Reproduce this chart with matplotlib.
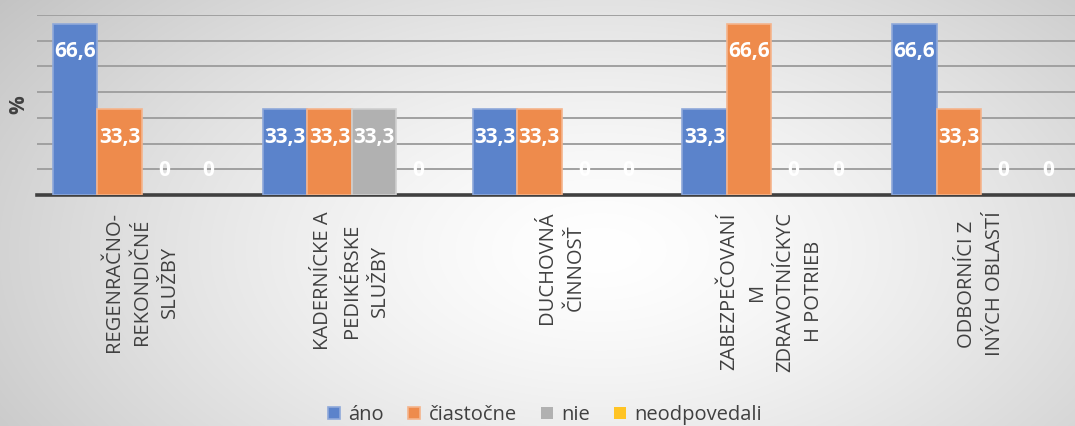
import numpy as np
import matplotlib
matplotlib.use("Agg")
import matplotlib.pyplot as plt

plt.rcParams['font.family'] = ['Open Sans', 'DejaVu Sans']

categories = ["REGENRAČNO-\nREKONDIČNÉ\nSLUŽBY",
              "KADERNÍCKE A\nPEDIKÉRSKE\nSLUŽBY",
              "DUCHOVNÁ\nČINNOSŤ",
              "ZABEZPEČOVANÍ\nM\nZDRAVOTNÍCKYC\nH POTRIEB",
              "ODBORNÍCI Z\nINÝCH OBLASTÍ"]
series_names = ["áno", "čiastočne", "nie", "neodpovedali"]
ano = [66.6, 33.3, 33.3, 33.3, 66.6]
ciastocne = [33.3, 33.3, 33.3, 66.6, 33.3]
nie = [0, 33.3, 0, 0, 0]
neodpovedali = [0, 0, 0, 0, 0]

colors = ['#5B83CB', '#EE8B4C', '#B1B1B1', '#FFC425']
edges = ['#8FA9DA', '#F5B48C', '#CFCFCF', '#FFD873']

W, H = 1075, 426
fig = plt.figure(figsize=(W / 100, H / 100), dpi=100)

# radial gradient background
bg = fig.add_axes([0, 0, 1, 1], zorder=-10)
yy, xx = np.mgrid[0:H, 0:W]
d = np.sqrt(((xx - 600) / 640.0) ** 2 + ((yy - 250) / 360.0) ** 2)
g = 255 - 62 * np.clip(d / 1.2, 0, 1) ** 1.4
img = np.dstack([g, g, g]).astype(np.uint8)
bg.imshow(img, aspect='auto', extent=[0, 1, 0, 1])
bg.axis('off')

ax = fig.add_axes([37 / W, 231 / H, 1049 / W, 180 / H])
ax.patch.set_alpha(0)

x = np.arange(len(categories))
bw = 0.212
data = [ano, ciastocne, nie, neodpovedali]
for i, vals in enumerate(data):
    xs = x + (i - 1.5) * bw
    lws = [1.2 if v else 0 for v in vals]
    ax.bar(xs, vals, width=bw, color=colors[i], edgecolor=edges[i],
           linewidth=lws, label=series_names[i], zorder=3)
    for xi, v in zip(xs, vals):
        txt = f"{v:.1f}".replace(".", ",") if v else "0"
        off = -20 if v else 18
        ax.annotate(txt, (xi, v), xytext=(0, off), textcoords='offset points',
                    ha='center', va='center', color='white',
                    fontsize=15, fontweight='bold', zorder=5)

ax.set_xlim(-0.5, 4.5)
ax.set_ylim(0, 70)
ax.set_yticks(np.arange(10, 71, 10))
ax.set_yticklabels([])
ax.yaxis.grid(True, color='#A0A0A0', linewidth=1.4)
ax.set_axisbelow(True)
ax.tick_params(axis='both', length=0)
ax.set_xticks(x)
ax.set_xticklabels(categories, rotation=90, fontsize=14.5, color='#404040',
                   multialignment='center', linespacing=1.55)
ax.tick_params(axis='x', pad=12)
for s in ['top', 'right', 'left']:
    ax.spines[s].set_visible(False)
ax.spines['bottom'].set_color('#404040')
ax.spines['bottom'].set_linewidth(2.6)
ax.set_ylabel("%", fontsize=15, fontweight='bold', color='#404040', labelpad=2)

handles, labels = ax.get_legend_handles_labels()
fig.legend(handles, labels, loc='center', bbox_to_anchor=(545 / W, 11 / H),
           ncol=4, frameon=False, fontsize=14.5, handlelength=0.6,
           handleheight=0.6, handletextpad=0.4, columnspacing=1.2,
           labelcolor='#404040')

fig.savefig("out.png", dpi=100)
